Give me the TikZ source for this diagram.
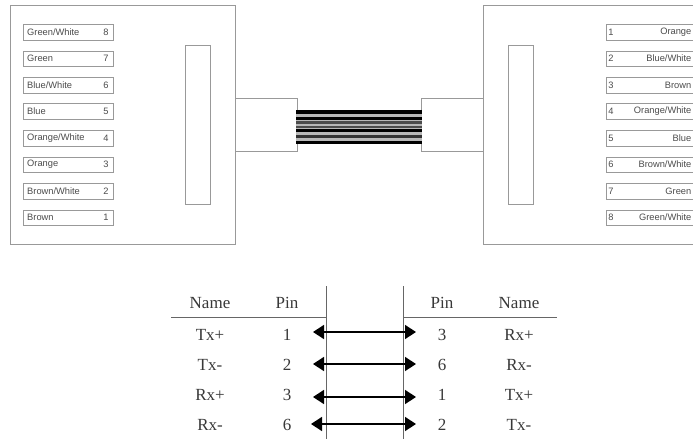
\documentclass[tikz,border=0pt]{standalone}
\usepackage{fontspec}
\setmainfont{Liberation Serif}
\newfontfamily\lblfont{Liberation Sans}
\usetikzlibrary{arrows.meta}
\definecolor{edge}{gray}{0.6}
\definecolor{txt}{gray}{0.3}
\tikzset{
  x=1pt,y=-1pt,
  box/.style={draw=edge,line width=1pt,fill=white},
  pinlabel/.style={font=\lblfont\fontsize{9.3}{11}\selectfont,text=txt,inner sep=0pt},
  tbl/.style={font=\fontsize{17}{20}\selectfont,text=black!78,inner sep=0pt},
  rule/.style={draw=black!60,line width=1pt},
  link/.style={draw=black,line width=1.4pt,{Triangle[length=11pt,width=14pt]}-{Triangle[length=11pt,width=14pt]}}
}
\begin{document}
\begin{tikzpicture}
\useasboundingbox (0,0) rectangle (693,439);
\clip (0,0) rectangle (693,439);
% plugs
\draw[box] (10.5,5.5) rectangle (235,244);
\draw[box] (483,5.5) rectangle (700,244);
\draw[box] (185,45) rectangle (210,204);
\draw[box] (508,45) rectangle (533,204);
% connector shells
\coordinate (lt) at (235,98); \coordinate (lb) at (235,151);
\coordinate (rt) at (483,98); \coordinate (rb) at (483,151);
\coordinate (ltc) at (297,98); \coordinate (lbc) at (297,151);
\coordinate (rtc) at (421,98); \coordinate (rbc) at (421,151);
\draw[edge,line width=1pt] (lt) -- (ltc) -- (lbc) -- (lb);
\draw[edge,line width=1pt] (rt) -- (rtc) -- (rbc) -- (rb);
% wires
\fill[black!28] (296,110.5) rectangle (422,144);
\foreach \y/\w/\g in {112/3.2/100,118.3/3.4/100,122.5/2.2/70,127/2.2/70,130.5/3/100,136.5/3/80,142/3/100}{
  \draw[black!\g,line width=\w pt] (296,\y) -- (422,\y);
}
% left labels
\foreach \top/\bot/\name/\pin in {
 24/40/Green\slash White/8, 51/66/Green/7, 77/93/Blue\slash White/6, 103/119/Blue/5,
 130/146/Orange\slash White/4, 157/172/Orange/3, 183/199/Brown\slash White/2, 210/225/Brown/1}{
  \draw[box] (23,\top) rectangle (113,\bot);
  \node[pinlabel,anchor=west] at (27,{(\top+\bot)/2}) {\name};
  \node[pinlabel] at (106,{(\top+\bot)/2}) {\pin};
}
% right labels
\foreach \top/\bot/\name/\pin in {
 24/40/Orange/1, 51/66/Blue\slash White/2, 77/93/Brown/3, 103/119/Orange\slash White/4,
 130/146/Blue/5, 157/172/Brown\slash White/6, 183/199/Green/7, 210/225/Green\slash White/8}{
  \draw[box] (606,\top) rectangle (700,\bot);
  \node[pinlabel,anchor=east] at (691.5,{(\top+\bot)/2}) {\name};
  \node[pinlabel] at (611,{(\top+\bot)/2}) {\pin};
}
% table rules
\coordinate (hl1) at (171,317); \coordinate (hl2) at (326,317);
\coordinate (hr1) at (404,317); \coordinate (hr2) at (557,317);
\draw[rule] (hl1) -- (hl2);
\draw[rule] (hr1) -- (hr2);
\coordinate (vl1) at (326,286); \coordinate (vl2) at (326,439);
\coordinate (vr1) at (403,286); \coordinate (vr2) at (403,439);
\draw[rule,line width=0.8pt] (vl1) -- (vl2);
\draw[rule,line width=0.8pt] (vr1) -- (vr2);
% table text
\node[tbl] (h1) at (210,303) {Name};
\node[tbl] (h2) at (287,303) {Pin};
\node[tbl] (h3) at (442,303) {Pin};
\node[tbl] (h4) at (519,303) {Name};
\foreach \y/\a/\b/\c/\d in {335/Tx+/1/3/Rx+,365/Tx-/2/6/Rx-,395/Rx+/3/1/Tx+,425/Rx-/6/2/Tx-}{
  \node[tbl] at (210,\y) {\a};
  \node[tbl] at (287,\y) {\b};
  \node[tbl] at (442,\y) {\c};
  \node[tbl] at (519,\y) {\d};
}
% arrows
\foreach \n/\y/\xa in {1/332/313,2/364/313,3/397/313,4/424/311}{
  \coordinate (al\n) at (\xa,\y);
  \coordinate (ar\n) at (416,\y);
  \draw[link] (al\n) -- (ar\n);
}
\end{tikzpicture}
\end{document}
